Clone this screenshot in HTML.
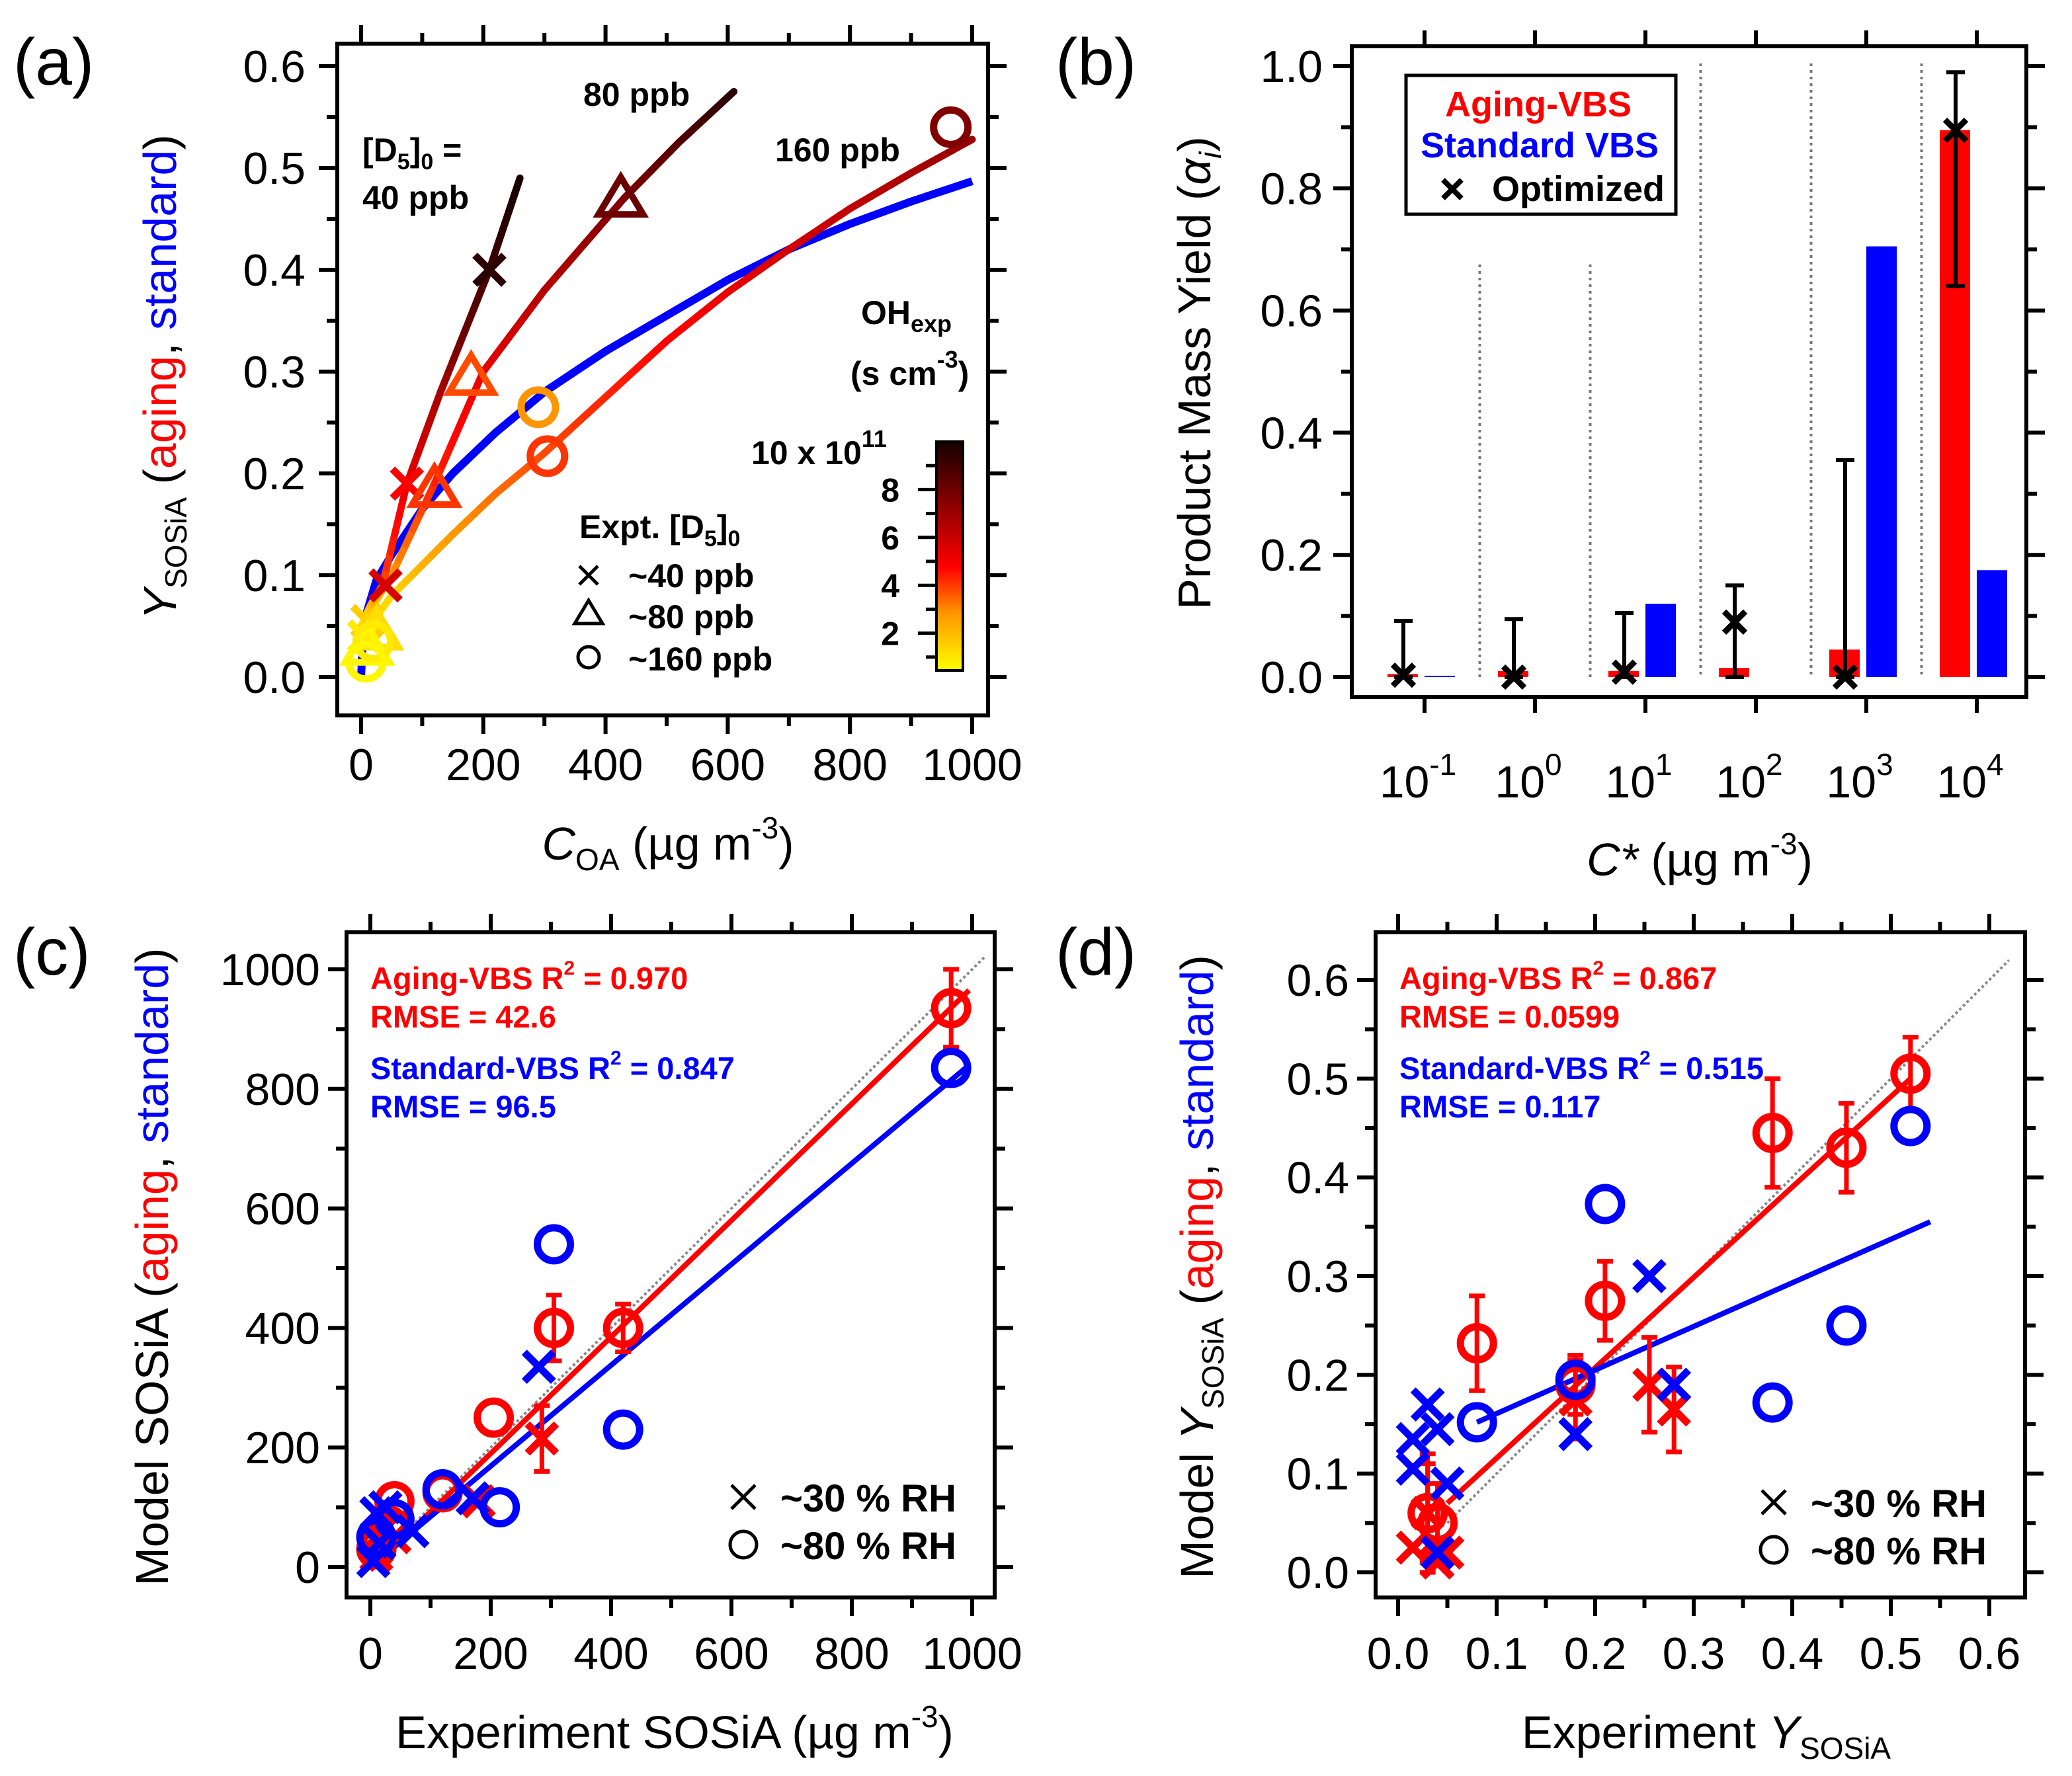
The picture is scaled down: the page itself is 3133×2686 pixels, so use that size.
<!DOCTYPE html>
<html><head><meta charset="utf-8"><style>
html,body{margin:0;padding:0;background:#fff}
svg{display:block}
text{font-family:"Liberation Sans",Arial,sans-serif}
.b{font-weight:bold}
</style></head><body>
<svg id="fig" xmlns="http://www.w3.org/2000/svg" width="3133" height="2686" viewBox="0 0 1566.5 1343">
<rect x="0" y="0" width="1566.5" height="1343" fill="#fff"/>
</svg>
<script>
// ===== Panel (a) data =====
const aCurve40X=[0,15,35,75,130,170,210,260];
const aCurve40Y=[0.05,0.07,0.09,0.19,0.28,0.34,0.4,0.49];
const aCurve40C=[0,0.15,0.35,0.5,0.65,0.8,0.9,1.0];
const aCurve80X=[0,20,50,120,200,300,430,520,610];
const aCurve80Y=[0.04,0.07,0.1,0.19,0.3,0.38,0.47,0.525,0.575];
const aCurve80C=[0,0.1,0.25,0.4,0.5,0.62,0.75,0.85,0.95];
const aCurve160X=[0,20,50,100,150,220,300,400,500,600,700,800,900,1000];
const aCurve160Y=[0.03,0.055,0.08,0.11,0.14,0.18,0.22,0.275,0.33,0.378,0.42,0.46,0.495,0.528];
const aCurve160C=[0,0.05,0.1,0.18,0.24,0.3,0.35,0.4,0.45,0.5,0.55,0.6,0.65,0.7];
const aStdX=[0,3,10,25,50,100,150,220,300,400,500,600,700,800,900,1000];
const aStdY=[0,0.04,0.065,0.095,0.12,0.165,0.2,0.24,0.28,0.32,0.355,0.39,0.42,0.445,0.467,0.487];
const aCrossX=[210,75,40,10,5];
const aCrossY=[0.4,0.19,0.09,0.055,0.04];
const aCrossC=[0.95,0.45,0.55,0.12,0.05];
const aTriX=[425,180,120,25,10];
const aTriY=[0.47,0.295,0.185,0.045,0.03];
const aTriC=[0.8,0.35,0.38,0.08,0.02];
const aCircX=[965,290,305,20,8];
const aCircY=[0.54,0.265,0.217,0.035,0.015];
const aCircC=[0.75,0.25,0.38,0.05,0.02];
const aXTicks=[0,200,400,600,800,1000];
const aYTicks=[0.0,0.1,0.2,0.3,0.4,0.5,0.6];
const cbTicks=[2,4,6,8];
// ===== Panel (b) data =====
const bCats=["-1","0","1","2","3","4"];
const bAging=[0.005,0.01,0.01,0.015,0.045,0.895];
const bStd=[0.002,0,0.12,0,0.705,0.175];
const bOpt=[0.003,0,0.008,0.09,0.0,0.895];
const bErrHi=[0.092,0.095,0.105,0.15,0.355,0.99];
const bErrLo=[0,0,0,0,0,0.64];
const bYTicks=[0.0,0.2,0.4,0.6,0.8,1.0];
// ===== Panel (c) data =====
const cRedCircX=[965,420,305,205,120,40,30,10];
const cRedCircY=[935,400,400,250,125,110,70,30];
const cRedCircE=[65,40,55,0,0,0,0,0];
const cRedCrossX=[285,180,10,20,40];
const cRedCrossY=[215,110,20,60,50];
const cRedCrossE=[55,0,0,0,0];
const cBlueCircX=[965,305,420,215,120,40,10];
const cBlueCircY=[835,540,230,100,130,80,50];
const cBlueCrossX=[280,170,70,10,15,5,25];
const cBlueCrossY=[335,115,60,90,40,10,100];
const cFitRed=[0,995,-5,965];
const cFitBlue=[0,995,0,840];
const cXTicks=[0,200,400,600,800,1000];
const cYTicks=[0,200,400,600,800,1000];
// ===== Panel (d) data =====
const dRedCircX=[0.52,0.455,0.38,0.21,0.08,0.18,0.03,0.04];
const dRedCircY=[0.505,0.43,0.445,0.275,0.232,0.19,0.06,0.05];
const dRedCircE=[0.037,0.045,0.055,0.04,0.048,0.03,0.05,0.04];
const dRedCrossX=[0.255,0.28,0.18,0.015,0.04,0.05,0.03];
const dRedCrossY=[0.19,0.165,0.175,0.025,0.01,0.02,0.06];
const dRedCrossE=[0.048,0.043,0.04,0.0,0.0,0.0,0.06];
const dBlueCircX=[0.52,0.21,0.455,0.38,0.18,0.08];
const dBlueCircY=[0.452,0.373,0.25,0.172,0.195,0.152];
const dBlueCrossX=[0.255,0.28,0.18,0.03,0.015,0.04,0.015,0.05,0.04];
const dBlueCrossY=[0.3,0.19,0.14,0.17,0.135,0.145,0.105,0.09,0.02];
const dFitRed=[0.05,0.52,0.07,0.5];
const dFitBlue=[0.08,0.54,0.152,0.355];
const dXTicks=[0.0,0.1,0.2,0.3,0.4,0.5,0.6];
const dYTicks=[0.0,0.1,0.2,0.3,0.4,0.5,0.6];

const NS="http://www.w3.org/2000/svg";
const svg=document.getElementById('fig');
function mk(tag,attrs,parent){const e=document.createElementNS(NS,tag);for(const k in attrs)e.setAttribute(k,attrs[k]);(parent||svg).appendChild(e);return e;}
function lin(d0,d1,p0,p1){return v=>p0+(v-d0)/(d1-d0)*(p1-p0);}
function cmap(t){
  const st=[[0,[255,255,0]],[0.25,[255,150,0]],[0.45,[255,0,0]],[0.7,[150,0,0]],[1,[20,0,0]]];
  for(let i=0;i<st.length-1;i++){if(t<=st[i+1][0]){const f=(t-st[i][0])/(st[i+1][0]-st[i][0]);const a=st[i][1],b=st[i+1][1];return `rgb(${Math.round(a[0]+f*(b[0]-a[0]))},${Math.round(a[1]+f*(b[1]-a[1]))},${Math.round(a[2]+f*(b[2]-a[2]))})`;}}
  return 'rgb(20,0,0)';
}
function cross(g,x,y,r,col,sw){return mk('path',{d:`M${x-r},${y-r}L${x+r},${y+r}M${x-r},${y+r}L${x+r},${y-r}`,stroke:col,'stroke-width':sw,fill:'none'},g);}
function circ(g,x,y,r,col,sw){return mk('circle',{cx:x,cy:y,r:r,stroke:col,'stroke-width':sw,fill:'none'},g);}
function tri(g,x,y,r,col,sw){return mk('path',{d:`M${x},${y-r}L${x+r*1.05},${y+r*0.75}L${x-r*1.05},${y+r*0.75}Z`,stroke:col,'stroke-width':sw,fill:'none'},g);}
function errbar(g,x,y0,y1,col,sw,cap){mk('path',{d:`M${x},${y0}L${x},${y1}M${x-cap},${y0}L${x+cap},${y0}M${x-cap},${y1}L${x+cap},${y1}`,stroke:col,'stroke-width':sw,fill:'none'},g);}
function frame(g,L,T,R,B,xt,xminor,yt,yminor,sx,sy){
  mk('rect',{x:L,y:T,width:R-L,height:B-T,fill:'none',stroke:'#000','stroke-width':3},g);
  let d='';
  xt.forEach(v=>{const x=sx(v);d+=`M${x},${B}L${x},${B+14}M${x},${T}L${x},${T-14}`;});
  xminor.forEach(v=>{const x=sx(v);d+=`M${x},${B}L${x},${B+8}M${x},${T}L${x},${T-8}`;});
  yt.forEach(v=>{const y=sy(v);d+=`M${L},${y}L${L-14},${y}M${R},${y}L${R+14},${y}`;});
  yminor.forEach(v=>{const y=sy(v);d+=`M${L},${y}L${L-8},${y}M${R},${y}L${R+8},${y}`;});
  mk('path',{d:d,stroke:'#000','stroke-width':3,fill:'none'},g);
}
function txt(g,x,y,s,attrs){const t=mk('text',Object.assign({x:x,y:y},attrs||{}),g);t.innerHTML=s;return t;}

// ===================== PANEL A =====================
(function(){
const g=mk('g',{});


const L=255,T=33,R=747,B=541;
const sx=lin(0,1000,273,735), sy=lin(0,0.6,512,50);
frame(g,L,T,R,B,aXTicks,[100,300,500,700,900],aYTicks,[0.05,0.15,0.25,0.35,0.45,0.55],sx,sy);
aXTicks.forEach(v=>{const t=txt(g,sx(v),590,String(v),{'font-size':34,'text-anchor':'middle'});});
aYTicks.forEach(v=>{const t=txt(g,231,sy(v)+12,v.toFixed(1),{'font-size':34,'text-anchor':'end'});});
const pl=txt(g,10,64,'(a)',{'font-size':50});
const yt=txt(g,0,0,'<tspan font-style="italic">Y</tspan><tspan font-size="23" dy="8">SOSiA</tspan><tspan dy="-8"> (</tspan><tspan fill="#f00">aging</tspan>, <tspan fill="#00f">standard</tspan>)',{'font-size':35,'text-anchor':'middle',transform:'translate(133,285) rotate(-90)'});

const xt=txt(g,505,650,'<tspan font-style="italic">C</tspan><tspan font-size="23" dy="8">OA</tspan><tspan dy="-8"> (µg m</tspan><tspan font-size="23" dy="-16">-3</tspan><tspan dy="16">)</tspan>',{'font-size':35,'text-anchor':'middle'});

const sc=mk('polyline',{points:aStdX.map((v,i)=>sx(v)+','+sy(aStdY[i])).join(' '),stroke:'#00f','stroke-width':6,fill:'none','stroke-linejoin':'round'},g);

[[aCurve160X,aCurve160Y,aCurve160C,'aging-curve-160ppb'],[aCurve80X,aCurve80Y,aCurve80C,'aging-curve-80ppb'],[aCurve40X,aCurve40Y,aCurve40C,'aging-curve-40ppb']].forEach(c=>{
  const cg=mk('g',{},g);
  for(let i=0;i<c[0].length-1;i++){
    const n=6;
    for(let k=0;k<n;k++){
      const f0=k/n,f1=(k+1)/n;
      const x0=c[0][i]+(c[0][i+1]-c[0][i])*f0,x1=c[0][i]+(c[0][i+1]-c[0][i])*f1;
      const y0=c[1][i]+(c[1][i+1]-c[1][i])*f0,y1=c[1][i]+(c[1][i+1]-c[1][i])*f1;
      const col=cmap(c[2][i]+(c[2][i+1]-c[2][i])*(f0+f1)/2);
      mk('line',{x1:sx(x0),y1:sy(y0),x2:sx(x1),y2:sy(y1),stroke:col,'stroke-width':5.5,'stroke-linecap':'round'},cg);
    }
  }
});
aCrossX.forEach((v,i)=>{const p=cross(g,sx(v),sy(aCrossY[i]),11,cmap(aCrossC[i]),5.5);});
aTriX.forEach((v,i)=>{const p=tri(g,sx(v),sy(aTriY[i]),16,cmap(aTriC[i]),5);});
aCircX.forEach((v,i)=>{const p=circ(g,sx(v),sy(aCircY[i]),13,cmap(aCircC[i]),5.5);});
const a1=txt(g,274,122,'[D<tspan font-size="17" dy="6">5</tspan><tspan dy="-6">]</tspan><tspan font-size="17" dy="6">0</tspan><tspan dy="-6"> =</tspan>',{'font-size':25,'class':'b'});
const a2=txt(g,274,158,'40 ppb',{'font-size':25,'class':'b'});
const a3=txt(g,441,80,'80 ppb',{'font-size':25,'class':'b'});
const a4=txt(g,586,122,'160 ppb',{'font-size':25,'class':'b'});
const a5=txt(g,651,245,'OH<tspan font-size="18" dy="6">exp</tspan>',{'font-size':25,'class':'b'});
const a6=txt(g,643,291,'(s cm<tspan font-size="18" dy="-13">-3</tspan><tspan dy="13">)</tspan>',{'font-size':25,'class':'b'});
const a7=txt(g,568,351,'10 x 10<tspan font-size="18" dy="-13">11</tspan>',{'font-size':25,'class':'b'});
const defs=mk('defs',{},svg);
const lg=mk('linearGradient',{id:'cbg',x1:0,y1:1,x2:0,y2:0},defs);
[0,0.25,0.45,0.7,1].forEach(o=>mk('stop',{offset:o,'stop-color':cmap(o)},lg));
const cbSy=lin(0,10,515,334);
const cb=mk('rect',{x:708,y:334,width:20,height:173,fill:'url(#cbg)',stroke:'#000','stroke-width':2},g);

let cd='';cbTicks.forEach(v=>{cd+=`M708,${cbSy(v)}L694,${cbSy(v)}`;});[1,3,5,7,9].forEach(v=>{cd+=`M708,${cbSy(v)}L700,${cbSy(v)}`;});
mk('path',{d:cd,stroke:'#000','stroke-width':2.5},g);
cbTicks.forEach(v=>{const t=txt(g,680,cbSy(v)+9,String(v),{'font-size':25,'class':'b','text-anchor':'end'});});
const l1=txt(g,438,407,'Expt. [D<tspan font-size="17" dy="6">5</tspan><tspan dy="-6">]</tspan><tspan font-size="17" dy="6">0</tspan>',{'font-size':25,'class':'b'});
cross(g,445,435,7,'#000',2.5);
const l2=txt(g,475,444,'~40 ppb',{'font-size':25,'class':'b'});
tri(g,445,464,10,'#000',2.5);
const l3=txt(g,475,475,'~80 ppb',{'font-size':25,'class':'b'});
circ(g,445,497,8,'#000',2.5);
const l4=txt(g,475,507,'~160 ppb',{'font-size':25,'class':'b'});
})();

// ===================== PANEL B =====================
(function(){
const g=mk('g',{});


const L=1022,T=35,R=1532,B=527;
const sy=lin(0,1,512,50);
const cx=i=>1077+i*83.5;
frame(g,L,T,R,B,[],[],bYTicks,[0.1,0.3,0.5,0.7,0.9],x=>x,sy);
let td='';bCats.forEach((c,i)=>{td+=`M${cx(i)},${B}L${cx(i)},${B+12}M${cx(i)},${T}L${cx(i)},${T-12}`;});
mk('path',{d:td,stroke:'#000','stroke-width':3},g);
bYTicks.forEach(v=>{const t=txt(g,1000,sy(v)+12,v.toFixed(1),{'font-size':34,'text-anchor':'end'});});
bCats.forEach((c,i)=>{const t=txt(g,cx(i)-5,603,'10<tspan font-size="23" dy="-17">'+c+'</tspan>',{'font-size':34,'text-anchor':'middle'});});
const pl=txt(g,798,64,'(b)',{'font-size':50});
const yt=txt(g,0,0,'Product Mass Yield (<tspan font-style="italic">α</tspan><tspan font-style="italic" font-size="23" dy="8">i</tspan><tspan dy="-8">)</tspan>',{'font-size':35,'text-anchor':'middle',transform:'translate(915,282) rotate(-90)'});

const xt=txt(g,1285,662,'<tspan font-style="italic">C*</tspan> (µg m<tspan font-size="23" dy="-16">-3</tspan><tspan dy="16">)</tspan>',{'font-size':35,'text-anchor':'middle'});

for(let i=0;i<5;i++){const x=cx(i)+41.75;const top=i<2?200:48;const s=mk('line',{x1:x,y1:top,x2:x,y2:512,stroke:'#777','stroke-width':2,'stroke-dasharray':'2,3'},g);}
bAging.forEach((v,i)=>{const h=Math.max(sy(0)-sy(v),1);const r=mk('rect',{x:cx(i)-28,y:sy(0)-h,width:23,height:h,fill:'#f00'},g);});
bStd.forEach((v,i)=>{const h=Math.max(sy(0)-sy(v),v>0?1:0);const r=mk('rect',{x:cx(i),y:sy(0)-h,width:23,height:h,fill:'#00f'},g);});
bOpt.forEach((v,i)=>{const x=cx(i)-16;errbar(g,x,sy(bErrHi[i]),sy(bErrLo[i]),'#000',3,7);const p=cross(g,x,sy(v),8,'#000',4.5);});
const lb=mk('rect',{x:1063,y:57,width:204,height:105,fill:'#fff',stroke:'#000','stroke-width':2.5},g);
const l1=txt(g,1163,88,'Aging-VBS',{'font-size':27,'class':'b','text-anchor':'middle',fill:'#f00'});
const l2=txt(g,1164,119,'Standard VBS',{'font-size':27,'class':'b','text-anchor':'middle',fill:'#00f'});
cross(g,1098,143,7,'#000',4);
const l3=txt(g,1128,152,'Optimized',{'font-size':27,'class':'b'});
})();

// ===================== scatter panels =====================
function scatter(opt){
const g=mk('g',{});


const {L,T,R,B,sx,sy}=opt;
frame(g,L,T,R,B,opt.xt,opt.xm,opt.yt,opt.ym,sx,sy);
opt.xt.forEach(v=>{const t=txt(g,sx(v),1262,opt.fmt(v),{'font-size':34,'text-anchor':'middle'});});
opt.yt.forEach(v=>{const t=txt(g,L-20,sy(v)+12,opt.fmt(v),{'font-size':34,'text-anchor':'end'});});
const pl=txt(g,opt.plx,737,opt.pl,{'font-size':50});
const yt=txt(g,0,0,opt.ytitle,{'font-size':35,'text-anchor':'middle',transform:`translate(${opt.ytx},958) rotate(-90)`});
const xt=txt(g,opt.xtx,1322,opt.xtitle,{'font-size':35,'text-anchor':'middle'});
const one=mk('line',{x1:sx(opt.oneA),y1:sy(opt.oneA),x2:sx(opt.oneB),y2:sy(opt.oneB),stroke:'#888','stroke-width':2,'stroke-dasharray':'2,2'},g);
const fr=mk('line',{x1:sx(opt.fitRed[0]),y1:sy(opt.fitRed[2]),x2:sx(opt.fitRed[1]),y2:sy(opt.fitRed[3]),stroke:'#f00','stroke-width':4},g);
const fb=mk('line',{x1:sx(opt.fitBlue[0]),y1:sy(opt.fitBlue[2]),x2:sx(opt.fitBlue[1]),y2:sy(opt.fitBlue[3]),stroke:'#00f','stroke-width':4},g);
opt.rcX.forEach((v,i)=>{if(opt.rcE[i]>0)errbar(g,sx(v),sy(opt.rcY[i]+opt.rcE[i]),sy(opt.rcY[i]-opt.rcE[i]),'#f00',3.5,6);const p=circ(g,sx(v),sy(opt.rcY[i]),12.5,'#f00',5.5);});
opt.rxX.forEach((v,i)=>{if(opt.rxE[i]>0)errbar(g,sx(v),sy(opt.rxY[i]+opt.rxE[i]),sy(opt.rxY[i]-opt.rxE[i]),'#f00',3.5,6);const p=cross(g,sx(v),sy(opt.rxY[i]),11,'#f00',5.5);});
opt.bcX.forEach((v,i)=>{const p=circ(g,sx(v),sy(opt.bcY[i]),12.5,'#00f',5.5);});
opt.bxX.forEach((v,i)=>{const p=cross(g,sx(v),sy(opt.bxY[i]),11,'#00f',5.5);});
const tx=L+18;
const s1=txt(g,tx,748,opt.s[0],{'font-size':23.5,'class':'b',fill:'#f00'});
const s2=txt(g,tx,777,opt.s[1],{'font-size':23.5,'class':'b',fill:'#f00'});
const s3=txt(g,tx,816,opt.s[2],{'font-size':23.5,'class':'b',fill:'#00f'});
const s4=txt(g,tx,845,opt.s[3],{'font-size':23.5,'class':'b',fill:'#00f'});
cross(g,R-190,opt.legY,9,'#000',2.5);
const e1=txt(g,R-162,opt.legY+11,'~30 % RH',{'font-size':29,'class':'b'});
circ(g,R-190,opt.legY+36,10,'#000',2.5);
const e2=txt(g,R-162,opt.legY+47,'~80 % RH',{'font-size':29,'class':'b'});
}
scatter({name:'panel-c',L:262,T:705,R:752,B:1208,sx:lin(0,1000,280,735),sy:lin(0,1000,1185,733),
 xt:cXTicks,xm:[100,300,500,700,900],yt:cYTicks,ym:[100,300,500,700,900],fmt:v=>String(v),
 pl:'(c)',plx:10,ytx:127,xtx:510,
 ytitle:'Model SOSiA (<tspan fill="#f00">aging</tspan>, <tspan fill="#00f">standard</tspan>)',
 xtitle:'Experiment SOSiA (µg m<tspan font-size="23" dy="-16">-3</tspan><tspan dy="16">)</tspan>',
 oneA:0,oneB:1020,fitRed:cFitRed,fitBlue:cFitBlue,
 rcX:cRedCircX,rcY:cRedCircY,rcE:cRedCircE,rxX:cRedCrossX,rxY:cRedCrossY,rxE:cRedCrossE,
 bcX:cBlueCircX,bcY:cBlueCircY,bxX:cBlueCrossX,bxY:cBlueCrossY,
 s:['Aging-VBS R<tspan font-size="15" dy="-11">2</tspan><tspan dy="11"> = 0.970</tspan>','RMSE = 42.6','Standard-VBS R<tspan font-size="15" dy="-11">2</tspan><tspan dy="11"> = 0.847</tspan>','RMSE = 96.5'],
 legY:1132});
scatter({name:'panel-d',L:1040,T:705,R:1531,B:1208,sx:lin(0,0.6,1057,1504),sy:lin(0,0.6,1189,741),
 xt:dXTicks,xm:[0.05,0.15,0.25,0.35,0.45,0.55],yt:dYTicks,ym:[0.05,0.15,0.25,0.35,0.45,0.55],fmt:v=>v.toFixed(1),
 pl:'(d)',plx:798,ytx:917,xtx:1290,
 ytitle:'Model <tspan font-style="italic">Y</tspan><tspan font-size="23" dy="8">SOSiA</tspan><tspan dy="-8"> (</tspan><tspan fill="#f00">aging</tspan>, <tspan fill="#00f">standard</tspan>)',
 xtitle:'Experiment <tspan font-style="italic">Y</tspan><tspan font-size="23" dy="8">SOSiA</tspan>',
 oneA:0.05,oneB:0.62,fitRed:dFitRed,fitBlue:dFitBlue,
 rcX:dRedCircX,rcY:dRedCircY,rcE:dRedCircE,rxX:dRedCrossX,rxY:dRedCrossY,rxE:dRedCrossE,
 bcX:dBlueCircX,bcY:dBlueCircY,bxX:dBlueCrossX,bxY:dBlueCrossY,
 s:['Aging-VBS R<tspan font-size="15" dy="-11">2</tspan><tspan dy="11"> = 0.867</tspan>','RMSE = 0.0599','Standard-VBS R<tspan font-size="15" dy="-11">2</tspan><tspan dy="11"> = 0.515</tspan>','RMSE = 0.117'],
 legY:1136});
</script>
</body></html>
